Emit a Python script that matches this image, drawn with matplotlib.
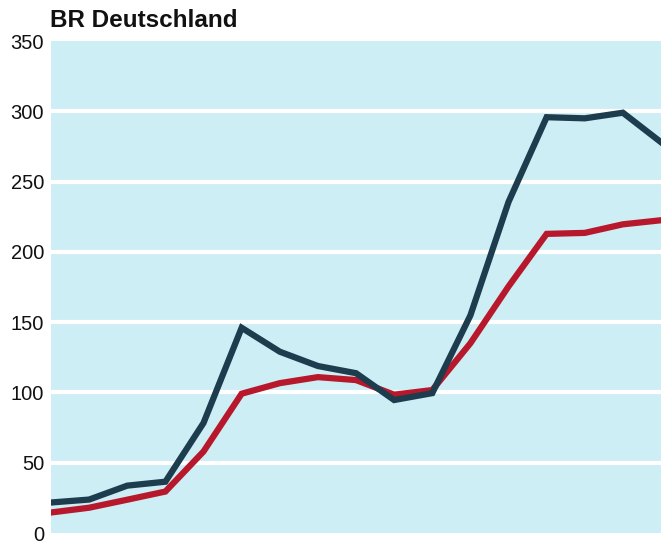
import numpy as np
import matplotlib
matplotlib.use("Agg")
import matplotlib.pyplot as plt

plt.rcParams['font.family'] = ['Liberation Sans', 'DejaVu Sans']

# 17 Jahre, keine Achsenbeschriftung im Original
jahre = list(range(17))
dunkel = [21.7, 23.8, 33.7, 36.5, 78.3, 146, 129, 118.8, 113.7, 94.6,
          99.5, 154.8, 235.5, 295.8, 295, 299, 278]
rot = [14.6, 18, 23.7, 29.5, 58, 99.1, 106.6, 110.9, 108.8, 98.4,
       101.7, 135, 175.4, 212.8, 213.5, 219.6, 222.5]
yticks = [0, 50, 100, 150, 200, 250, 300, 350]

fig = plt.figure(figsize=(6.61, 5.44), dpi=100)
ax = fig.add_axes([0.0772, 0.0202, 0.9228, 0.9044])
ax.set_facecolor('#cdeef4')

for y in yticks[1:-1]:
    ax.axhline(y, color='white', lw=3, zorder=1)

ax.plot(jahre, rot, color='#b8182c', lw=4.5, solid_joinstyle='miter', zorder=3)
ax.plot(jahre, dunkel, color='#1d3d4e', lw=4.5, solid_joinstyle='miter', zorder=4)

ax.set_xlim(0, 16)
ax.set_ylim(0, 350)
ax.set_yticks(yticks)
ax.set_yticklabels([str(t) for t in yticks], fontsize=14.5, color='#111111')
ax.set_xticks([])
ax.tick_params(axis='y', length=0, pad=5)
for s in ax.spines.values():
    s.set_visible(False)

fig.text(0.0756, 0.963, 'BR Deutschland', fontsize=17.5, fontweight='bold',
         color='#111111', ha='left', va='center')

fig.savefig('out.png', dpi=100)
